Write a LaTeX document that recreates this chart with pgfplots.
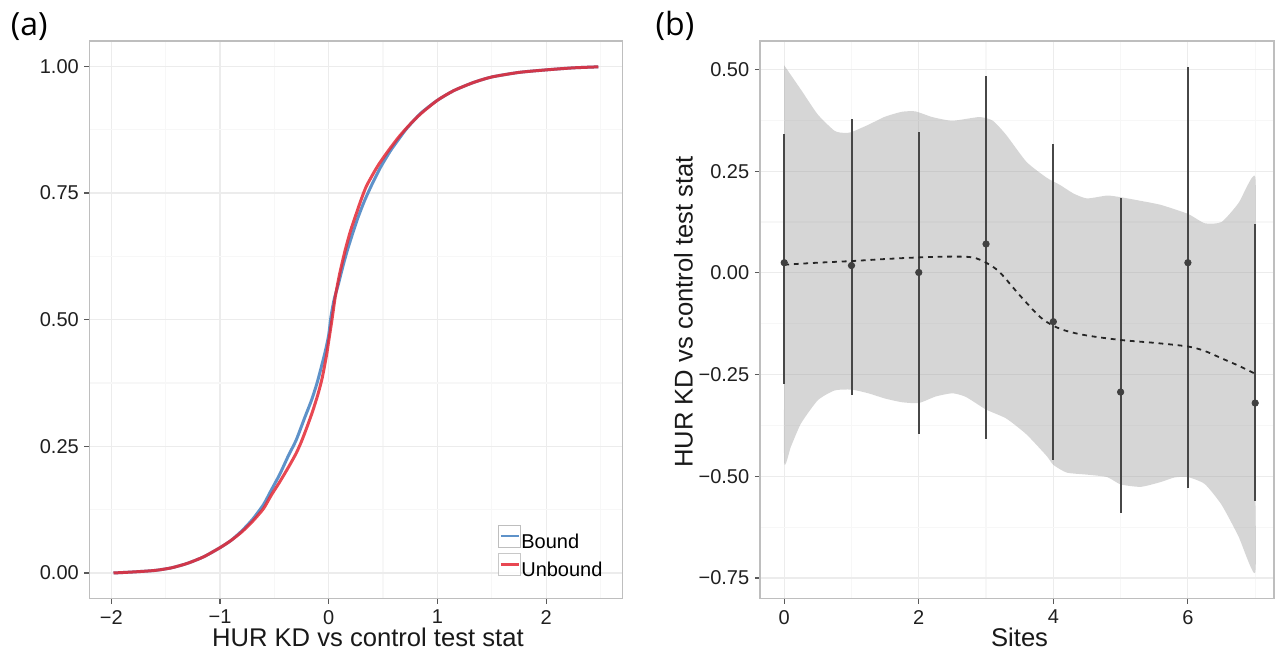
\documentclass[border=0pt]{standalone}
\usepackage{fontspec}
\setmainfont{Liberation Sans}
\newfontfamily\panelfont{Open Sans}
\usepackage{pgfplots}
\pgfplotsset{compat=1.18}

\definecolor{boundblue}{RGB}{94,146,201}
\definecolor{unboundred}{RGB}{228,40,52}
\definecolor{ribbongray}{RGB}{153,153,153}
\definecolor{gridmajor}{RGB}{236,236,236}
\definecolor{gridminor}{RGB}{247,247,247}
\definecolor{panelborder}{RGB}{190,190,190}

\pgfplotsset{
  ggbw/.style={
    scale only axis,
    height=278.65bp,
    axis line style={panelborder, line width=0.6bp},
    tick align=outside,
    major tick length=2.6bp,
    minor tick length=0pt,
    tick style={black!65, line width=0.6bp},
    xtick pos=left, ytick pos=left,
    grid=both,
    major grid style={gridmajor, line width=0.6bp},
    minor grid style={gridminor, line width=0.6bp},
    tick label style={font=\fontsize{10bp}{12bp}\selectfont, text=black!88},
    xticklabel style={inner sep=0pt, yshift=-3.1bp},
    yticklabel style={inner sep=0pt, xshift=-2.6bp},
    label style={font=\fontsize{12.8bp}{15bp}\selectfont, text=black!90},
    /pgf/number format/assume math mode=true,
  }
}

\begin{document}
\begin{tikzpicture}
% page frame
\path (0,0) rectangle (641.5bp,326bp);

% (a) cumulative distributions of the test statistic
\begin{axis}[ggbw,
  at={(44.8bp,26.85bp)}, anchor=south west, width=266.3bp,
  xmin=-2.2, xmax=2.7, ymin=-0.05, ymax=1.05,
  xtick={-2,-1,0,1,2}, xticklabels={−2,−1,0,1,2},
  minor xtick={-1.5,-0.5,0.5,1.5,2.5},
  ytick={0,0.25,0.5,0.75,1}, yticklabels={0.00,0.25,0.50,0.75,1.00},
  minor ytick={0.125,0.375,0.625,0.875},
  xlabel={HUR KD vs control test stat},
  xlabel style={at={(axis description cs:0.5225,0)}, anchor=base, yshift=-24.2bp},
  legend cell align=left,
  legend style={at={(axis description cs:0.963,0.03)}, anchor=south east,
    draw=none, fill=none, inner sep=0pt, outer sep=0pt, row sep=0pt,
    font=\fontsize{10bp}{12bp}\selectfont,
    nodes={inner sep=0pt, text height=7.5bp, text depth=2.5bp},
    /tikz/every even column/.append style={column sep=1.5bp}},
  legend image code/.code={
    \draw[panelborder, fill=white, line width=0.5bp] (0bp,-2bp) rectangle (11bp,9bp);
    \draw[#1, line width=1.1bp] (1bp,3.5bp) -- (10bp,3.5bp);
  },
]
\addplot[boundblue, line width=1.5bp, smooth, tension=0.4] coordinates {
  (-1.98,0.000) (-1.80,0.002) (-1.60,0.005) (-1.45,0.010) (-1.30,0.019)
  (-1.15,0.032) (-1.00,0.050) (-0.90,0.064) (-0.80,0.083) (-0.70,0.106)
  (-0.60,0.135) (-0.53,0.163) (-0.45,0.195) (-0.37,0.232) (-0.30,0.262)
  (-0.22,0.307) (-0.16,0.340) (-0.11,0.373) (-0.07,0.405) (-0.03,0.439)
  (0.00,0.470) (0.02,0.505) (0.05,0.540) (0.09,0.571) (0.13,0.605)
  (0.17,0.636) (0.22,0.670) (0.27,0.702) (0.33,0.735) (0.40,0.768)
  (0.48,0.802) (0.57,0.834) (0.65,0.858) (0.72,0.878) (0.85,0.908)
  (1.00,0.933) (1.15,0.952) (1.33,0.968) (1.50,0.979) (1.75,0.988)
  (2.00,0.993) (2.25,0.997) (2.48,0.999)
};
\addlegendentry{Bound}
\addplot[unboundred, line width=1.5bp, opacity=0.85, smooth, tension=0.4] coordinates {
  (-1.98,0.000) (-1.80,0.002) (-1.60,0.005) (-1.45,0.010) (-1.30,0.019)
  (-1.15,0.032) (-1.00,0.050) (-0.90,0.064) (-0.80,0.081) (-0.70,0.102)
  (-0.60,0.127) (-0.53,0.153) (-0.45,0.180) (-0.37,0.209) (-0.30,0.236)
  (-0.25,0.260) (-0.20,0.288) (-0.15,0.318) (-0.10,0.352) (-0.06,0.385)
  (-0.02,0.430) (0.00,0.458) (0.03,0.500) (0.06,0.545) (0.10,0.590)
  (0.15,0.636) (0.20,0.675) (0.25,0.707) (0.30,0.738) (0.35,0.765)
  (0.45,0.803) (0.55,0.834) (0.65,0.862) (0.75,0.886) (0.85,0.907)
  (1.00,0.933) (1.15,0.952) (1.33,0.968) (1.50,0.979) (1.75,0.988)
  (2.00,0.993) (2.25,0.997) (2.48,0.999)
};
\addlegendentry{Unbound}
\end{axis}

% (b) test statistic by number of sites, with loess fit and band
\begin{axis}[ggbw,
  at={(380bp,26.85bp)}, anchor=south west, width=257bp,
  xmin=-0.36, xmax=7.28, ymin=-0.8, ymax=0.57,
  xtick={0,2,4,6}, minor xtick={1,3,5,7},
  ytick={-0.75,-0.5,-0.25,0,0.25,0.5},
  yticklabels={−0.75,−0.50,−0.25,0.00,0.25,0.50},
  minor ytick={-0.625,-0.375,-0.125,0.125,0.375},
  xlabel={Sites},
  xlabel style={at={(axis description cs:0.505,0)}, anchor=base, yshift=-24.2bp},
  ylabel={HUR KD vs control test stat},
  ylabel style={at={(axis description cs:-0.149,0.514)}, anchor=center},
]
% confidence band: upper edge left to right, lower edge right to left
\addplot[fill=ribbongray, fill opacity=0.4, draw=none, smooth, tension=0.35] coordinates {
  (0,0.510) (0.25,0.450) (0.5,0.389) (0.75,0.349) (0.9,0.344) (1,0.346)
  (1.25,0.364) (1.5,0.384) (1.75,0.396) (1.95,0.397) (2.2,0.383)
  (2.5,0.374) (2.9,0.383) (3.1,0.374) (3.3,0.339) (3.6,0.273)
  (3.9,0.234) (4.1,0.216) (4.3,0.195) (4.5,0.183) (4.8,0.190)
  (5.0,0.186) (5.3,0.177) (5.6,0.167) (6.0,0.145) (6.25,0.122)
  (6.5,0.125) (6.75,0.171) (7,0.237)
  (7,0.0) (7,-0.25) (7,-0.5)
  (7,-0.737) (6.75,-0.647) (6.5,-0.570) (6.25,-0.519) (6.0,-0.502)
  (5.8,-0.503) (5.6,-0.514) (5.3,-0.526) (5.0,-0.520) (4.8,-0.502)
  (4.5,-0.496) (4.2,-0.491) (4,-0.472) (3.9,-0.450) (3.6,-0.397)
  (3.3,-0.358) (3,-0.336) (2.7,-0.305) (2.5,-0.296) (2.25,-0.304)
  (2,-0.320) (1.75,-0.318) (1.5,-0.309) (1.25,-0.296) (1,-0.287)
  (0.75,-0.289) (0.5,-0.313) (0.25,-0.370) (0.1,-0.427) (0,-0.467)
  (0,-0.2) (0,0.1) (0,0.3)
} -- cycle;

\addplot[only marks, mark=*, mark size=1.6bp, black!75,
  error bars/.cd, y dir=both, y explicit, error mark=none,
  error bar style={black!72, line width=1bp}]
  table[x=x, y=y, y error plus expr=\thisrow{hi}-\thisrow{y},
        y error minus expr=\thisrow{y}-\thisrow{lo}] {
  x   y       lo      hi
  0   0.025  -0.272   0.342
  1   0.018  -0.300   0.378
  2   0.001  -0.395   0.347
  3   0.071  -0.408   0.485
  4  -0.120  -0.460   0.317
  5  -0.293  -0.590   0.185
  6   0.025  -0.528   0.505
  7  -0.320  -0.560   0.120
};

\addplot[black!85, line width=0.9bp, dash pattern=on 2.4bp off 2.4bp, smooth, tension=0.5] coordinates {
  (0,0.020) (0.5,0.025) (1,0.029) (1.5,0.034) (2,0.038) (2.5,0.040)
  (2.8,0.038) (3,0.025) (3.2,0.002) (3.5,-0.055) (3.8,-0.108)
  (4,-0.130) (4.2,-0.143) (4.5,-0.154) (5,-0.165) (5.5,-0.172)
  (6,-0.181) (6.25,-0.192) (6.5,-0.210) (6.75,-0.228) (7,-0.248)
};
\end{axis}

\node[font=\panelfont\fontsize{16bp}{19bp}\selectfont, anchor=center] at (14.6bp,312.5bp) {(a)};
\node[font=\panelfont\fontsize{16bp}{19bp}\selectfont, anchor=center] at (337.5bp,313bp) {(b)};
\end{tikzpicture}
\end{document}
